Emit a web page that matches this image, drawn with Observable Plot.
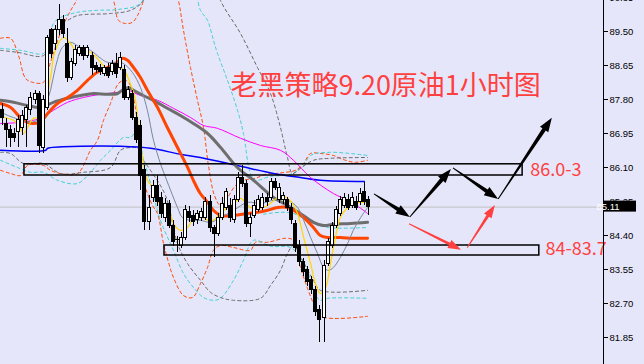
<!DOCTYPE html>
<html>
<head>
<meta charset="utf-8">
<script src="https://cdn.jsdelivr.net/npm/d3@7"></script>
<script src="https://cdn.jsdelivr.net/npm/@observablehq/plot@0.6"></script>
<style>
  html, body { margin: 0; padding: 0; background: #e6e6fa; overflow: hidden; }
</style>
</head>
<body>
<div id="chart"></div>
<script>
// Crude oil, 1-hour bars (OHLC)
const open = [87.53,87.20,87.03,86.95,86.98,87.08,87.28,87.53,87.78,87.95, 86.60,87.60,89.53,89.20,89.53,89.78,89.20,88.35,88.70,88.95, 89.08,88.90,88.90,88.65,88.60,88.45,88.58,88.48,88.70,88.60, 88.53,87.85,87.95,87.35,87.15,86.03,84.73,85.33,85.65,85.35, 84.85,85.20,84.65,84.28,84.15,84.33,84.98,84.90,84.78,84.83, 84.83,85.23,84.58,84.45,84.83,85.10,85.15,84.78,85.28,85.83, 85.70,84.70,84.90,85.03,85.08,85.35,85.35,85.73,85.28,85.28, 85.28,85.10,84.70,84.15,83.73,83.53,83.28,83.03,82.53,82.33, 83.70,84.15,84.65,84.95,85.15,85.28,85.15,85.25,85.23,85.48, 85.28];
const high = [87.70,87.33,87.15,87.08,87.40,87.53,87.65,87.98,88.03,88.00, 87.90,89.40,89.58,89.65,90.18,89.90,89.58,88.83,89.15,89.15, 89.15,89.15,88.98,88.73,88.68,88.65,88.70,88.78,88.95,88.98, 88.65,88.13,88.03,87.48,87.28,86.15,85.40,85.78,85.90,85.48, 85.33,85.28,84.78,84.38,84.48,85.15,85.13,85.03,85.03,85.08, 85.35,85.40,84.65,84.95,85.35,85.58,85.33,85.40,85.98,86.15, 85.78,84.95,85.28,85.40,85.45,85.45,85.83,85.83,85.70,85.48, 85.35,85.20,84.78,84.28,83.83,83.63,83.38,83.13,82.65,83.78, 84.33,84.73,85.13,85.38,85.45,85.43,85.48,85.38,85.58,85.73, 85.38];
const low = [87.15,86.60,86.60,86.73,86.60,86.90,86.60,87.40,87.68,86.45, 86.45,87.53,88.83,89.03,89.40,89.33,88.23,88.28,88.63,88.88, 88.78,88.83,88.40,88.45,88.40,88.38,88.33,88.40,88.33,88.53, 87.78,87.78,87.28,86.70,85.53,84.53,84.53,85.23,85.13,84.83, 84.73,84.58,84.13,83.98,84.08,84.28,84.73,84.63,84.68,84.75, 84.78,84.48,83.85,84.38,84.78,85.03,84.73,84.70,85.23,85.60, 84.60,84.35,84.83,84.98,85.03,85.13,85.28,85.53,85.20,85.18, 85.00,84.68,83.98,83.63,83.38,83.13,82.93,82.38,81.73,81.73, 83.63,84.08,84.58,84.88,85.08,85.03,85.08,85.03,85.15,85.15, 84.90];
const close = [87.33,87.03,86.85,86.83,87.28,87.40,87.58,87.85,87.95,86.65, 87.78,89.33,88.95,89.53,89.78,89.45,88.33,88.73,89.03,89.08, 88.90,89.08,88.60,88.53,88.48,88.58,88.40,88.70,88.45,88.83, 87.85,88.03,87.35,86.78,85.90,84.73,85.10,85.65,85.23,84.95, 85.20,84.65,84.23,84.30,84.35,85.03,84.85,84.73,84.95,84.98, 85.23,84.58,84.45,84.83,85.20,85.48,84.83,85.28,85.83,85.70, 84.70,84.85,85.15,85.28,85.35,85.23,85.73,85.60,85.60,85.40, 85.08,84.78,84.08,83.73,83.48,83.23,83.03,82.48,82.28,83.65, 84.23,84.65,85.03,85.28,85.33,85.10,85.33,85.10,85.45,85.23, 85.11];
const lastPrice = 85.11;

// Moving averages: [bar index, price]
const maFast = [[0.25,87.35],[2.7,87.28],[4.4,87.08],[5.2,86.95],[7.6,87.33],[9.3,87.35],[10.6,87.70],[11.8,88.35],[13.0,89.03],[15.0,89.35],[16.7,89.20],[18.4,88.98],[19.9,89.03],[21.6,88.98],[23.3,88.83],[24.8,88.65],[26.5,88.53],[27.8,88.58],[29.0,88.60],[30.2,88.48],[31.4,88.20],[32.7,87.78],[33.4,87.10],[34.4,86.35],[35.6,85.78],[36.9,85.60],[38.1,85.23],[39.6,85.20],[40.8,85.10],[42.0,84.70],[43.7,84.53],[45.5,84.60],[46.9,84.83],[48.6,84.90],[50.4,84.78],[51.8,84.78],[53.6,84.95],[55.3,85.10],[56.8,85.20],[58.5,85.33],[60.9,85.10],[62.7,85.08],[64.1,85.10],[65.8,85.20],[67.6,85.35],[68.8,85.40],[70.0,85.33],[71.3,85.20],[72.5,84.95],[74.0,84.35],[75.7,83.70],[76.9,83.20],[78.1,82.95],[79.4,83.10],[80.6,83.70],[81.8,84.35],[83.0,84.85],[84.8,85.10],[86.2,85.20],[88.0,85.23],[89.7,85.23]];
const maSlate = [[-0.5,87.48],[3.2,87.33],[6.9,87.23],[9.3,87.33],[10.1,87.53],[11.8,88.03],[13.0,88.60],[14.7,89.10],[16.7,89.23],[19.2,89.10],[21.6,89.03],[24.1,88.83],[25.8,88.73],[28.3,88.73],[29.7,88.70],[31.9,88.48],[33.9,88.10],[35.6,87.53],[37.1,86.78],[38.8,86.20],[39.6,85.98],[41.3,85.53],[43.0,85.10],[44.2,84.85],[46.2,84.78],[48.6,84.78],[51.1,84.73],[53.6,84.85],[56.8,85.03],[60.2,85.23],[63.4,85.20],[66.6,85.28],[70.0,85.28],[72.5,85.10],[74.0,84.78],[75.7,84.35],[77.4,83.95],[78.9,83.60],[80.1,83.53],[81.3,83.60],[83.0,83.85],[84.8,84.20],[86.2,84.53],[88.0,84.85],[89.7,85.10]];
const maOrange = [[-0.5,87.70],[2.0,87.60],[4.4,87.35],[6.1,87.23],[7.6,87.20],[9.3,87.23],[11.1,87.45],[13.5,87.70],[16.0,87.85],[18.4,88.03],[20.9,88.28],[23.3,88.48],[25.8,88.60],[27.8,88.70],[29.5,88.83],[30.7,88.78],[32.2,88.60],[33.9,88.35],[35.6,88.03],[38.1,87.60],[40.5,87.10],[43.0,86.60],[45.5,86.10],[46.9,85.78],[48.6,85.45],[50.4,85.23],[51.8,85.03],[53.6,84.90],[56.8,84.90],[60.2,84.95],[62.7,84.98],[65.1,85.03],[67.6,85.10],[70.0,85.10],[71.5,85.03],[74.0,84.85],[76.4,84.60],[78.1,84.40],[79.9,84.35],[83.0,84.35],[86.2,84.33],[89.7,84.33]];
const maGray = [[-0.5,87.78],[2.7,87.73],[6.1,87.65],[9.3,87.60],[12.5,87.73],[16.0,87.83],[19.2,87.90],[22.4,87.95],[25.8,87.93],[28.3,87.95],[29.7,88.05],[31.0,88.10],[32.2,88.03],[34.6,87.90],[37.1,87.78],[40.5,87.58],[43.7,87.40],[46.9,87.20],[50.4,86.95],[53.6,86.60],[57.7,86.10],[61.7,85.78],[66.6,85.35],[70.0,85.15],[73.2,84.95],[76.4,84.73],[78.9,84.65],[81.3,84.68],[85.5,84.70],[89.7,84.73]];
const maMagenta = [[-0.5,87.20],[4.4,87.23],[9.3,87.33],[12.5,87.53],[16.0,87.73],[19.9,87.85],[24.1,87.93],[28.3,87.98],[30.7,88.03],[33.9,87.90],[38.1,87.78],[42.0,87.58],[46.2,87.35],[49.4,87.15],[52.8,87.08],[58.5,86.83],[63.4,86.65],[68.3,86.53],[71.5,86.28],[75.7,85.85],[81.3,85.45],[84.8,85.28],[88.0,85.08],[89.7,84.95]];
const maBlue = [[-0.5,86.53],[10.6,86.53],[11.1,86.58],[19.2,86.63],[29.0,86.63],[36.4,86.58],[43.7,86.43],[48.6,86.35],[58.5,86.13],[66.6,85.95],[73.2,85.85],[78.1,85.78],[88.9,85.75]];

// Band envelopes (dashed): [bar index, price]
const bandRedUp = [[-0.49,89.33],[1.97,89.33],[3.93,88.90],[5.65,88.33],[7.37,88.23],[10.07,88.23],[11.79,88.73],[13.76,89.33],[15.72,89.83],[17.94,90.23],[19.9,90.53],[26.54,90.40],[28.5,89.78],[30.22,89.70],[31.94,89.73],[33.17,89.90],[34.64,90.275],[36.36,91.03],[41.3,91.03],[43.24,90.275],[44.47,89.53],[46.19,88.60],[47.91,87.78],[49.39,87.10],[50.61,86.15],[52.09,85.40],[53.56,85.15],[55.28,85.35],[57.25,85.65],[59.21,85.78],[62.16,85.83],[64.62,85.93],[67.08,85.95],[69.53,85.98],[71.99,86.03],[73.96,86.20],[75.68,86.45],[78.13,86.45],[81.33,86.40],[84.28,86.28],[86.73,86.23],[89.68,86.28]];
const bandRedLow = [[-0.49,86.03],[1.97,85.95],[4.42,85.90],[6.14,86.15],[10.07,86.15],[11.79,86.03],[14.25,85.95],[18.43,85.95],[21.62,86.53],[23.34,86.78],[24.82,87.28],[26.54,87.70],[28.5,88.20],[30.22,88.28],[31.45,88.15],[32.19,87.85],[33.42,87.03],[34.64,85.78],[36.86,85.15],[38.08,84.95],[39.56,84.20],[40.79,83.73],[42.01,83.35],[44.47,82.90],[46.68,82.85],[48.65,83.20],[50.37,83.60],[51.84,84.03],[53.56,84.15],[56.76,84.10],[60.93,84.03],[62.16,84.23],[65.11,84.23],[69.53,84.33],[71.5,84.28],[73.22,83.60],[74.94,83.08],[76.41,82.70],[78.13,82.38],[89.68,82.38]];
const bandCyanUp = [[-0.49,89.08],[4.42,89.03],[10.07,88.95],[11.06,89.20],[12.53,89.70],[14.25,89.85],[18.43,89.98],[23.34,90.03],[28.26,90.05],[33.91,90.20],[36.36,90.78],[46.19,90.78],[48.65,90.03],[50.37,89.78],[51.84,89.28],[52.83,88.95],[55.28,88.28],[57.74,87.53],[59.21,86.95],[60.93,85.95],[62.16,85.78],[65.85,85.88],[70.76,85.93],[73.96,86.15],[75.68,86.40],[80.59,86.48],[89.68,86.40]];
const bandCyanMid = [[64.13,84.93],[68.3,84.98],[71.5,84.95],[75.68,84.73],[79.85,84.60],[89.68,84.60]];
const bandCyanLow = [[-0.49,86.28],[3.69,86.10],[6.88,85.98],[10.07,85.98],[13.51,85.78],[18.43,85.70],[21.62,85.98],[24.08,86.28],[26.54,86.53],[29.73,86.85],[31.45,86.85],[33.17,87.03],[34.64,86.28],[35.63,85.98],[38.82,84.78],[42.01,84.03],[44.47,83.45],[46.93,83.10],[49.39,82.85],[51.84,82.78],[53.56,82.83],[56.76,83.28],[59.21,83.78],[61.67,84.28],[65.85,84.13],[70.76,84.10],[73.96,83.73],[75.68,83.28],[76.9,82.90],[78.13,82.78],[79.85,82.83],[89.68,82.83]];
const bandGrayUp = [[-0.49,89.03],[3.69,88.98],[10.07,88.90],[11.79,89.40],[14.25,89.73],[15.97,89.78],[18.43,89.90],[26.54,89.95],[31.45,90.03],[34.64,90.275],[36.36,91.03],[51.11,91.03],[53.56,90.275],[58.48,89.45],[62.65,88.60],[65.85,87.95],[68.3,87.10],[70.02,86.35],[71.25,85.95],[73.22,86.08],[76.41,86.28],[80.59,86.33],[89.68,86.35]];
const bandGrayLow = [[-0.49,86.48],[1.97,86.45],[5.16,86.20],[10.07,86.20],[14.25,85.95],[19.9,85.98],[26.54,86.10],[28.99,86.53],[31.45,86.60],[33.17,86.58],[34.64,86.28],[36.36,86.03],[40.05,85.40],[43.0,84.20],[45.45,83.70],[48.65,83.28],[51.11,82.98],[53.56,82.85],[56.76,82.78],[63.39,82.83],[65.85,83.15],[68.3,83.53],[70.02,83.95],[71.5,84.15],[73.96,83.73],[76.41,83.28],[78.13,83.03],[89.68,83.03]];

// Zones: [start bar, end bar, low, high]
const zones = [[5.4, 127.8, 85.90, 86.18], [39.8, 131.9, 83.90, 84.15]];
const zoneLabels = ["86.0-3", "84-83.7"];
// Scenario arrows: [from bar, from price, to bar, to price]
const pathArrows = [[91.4,85.43,100.2,84.85],[100.2,84.85,110.3,86.05],[110.8,86.08,121.9,85.30],[121.9,85.30,135.1,87.33]];
const altArrows = [[100.0,84.68,112.8,84.03],[114.3,84.08,121.1,85.15]];
const title = "老黑策略9.20原油1小时图";
const yTicks = [81.85,82.70,83.55,84.40,85.25,86.10,86.95,87.80,88.65,89.50,90.35];

const bars = open.map((o, i) => ({i, o, h: high[i], l: low[i], c: close[i], up: close[i] >= o}));
const pairs = (a) => a.map(([i, v]) => ({i, v}));
const RED = "#ff4040";

function taperedArrows(list, color, widest, headLen, headHalf) {
  return (index, {x, y}) => {
    const g = d3.create("svg:g");
    for (const [a, b, c, d] of list) {
      const x1 = x(a), y1 = y(b), x2 = x(c), y2 = y(d);
      const L = Math.hypot(x2 - x1, y2 - y1), ux = (x2 - x1) / L, uy = (y2 - y1) / L;
      const nx = -uy, ny = ux;
      const bx = x2 - ux * headLen, by = y2 - uy * headLen;
      const pts = [
        [x1 + nx * 0.5, y1 + ny * 0.5],
        [bx + nx * widest / 2, by + ny * widest / 2],
        [bx + nx * headHalf, by + ny * headHalf],
        [x2, y2],
        [bx - nx * headHalf, by - ny * headHalf],
        [bx - nx * widest / 2, by - ny * widest / 2],
        [x1 - nx * 0.5, y1 - ny * 0.5]
      ];
      g.append("polygon").attr("points", pts.map(p => p.join(",")).join(" ")).attr("fill", color);
    }
    return g.node();
  };
}

function priceTag(value) {
  return (index, {y}, values, {width, marginRight}) => {
    const g = d3.create("svg:g");
    const x0 = width - marginRight + 1, yy = y(value);
    g.append("rect").attr("x", x0).attr("y", yy - 6).attr("width", 32).attr("height", 11).attr("fill", "black");
    g.append("text").attr("x", x0 + 4).attr("y", yy).attr("dy", "0.35em")
      .attr("fill", "white").attr("font-size", 9.5).attr("font-family", "Liberation Sans, sans-serif")
      .text(d3.format(".2f")(value));
    return g.node();
  };
}

const dashed = (data, stroke) => Plot.line(pairs(data), {x: "i", y: "v", stroke, strokeWidth: 1, strokeDasharray: "3,3", curve: "catmull-rom", clip: true});
const solid = (data, stroke, strokeWidth) => Plot.line(pairs(data), {x: "i", y: "v", stroke, strokeWidth, curve: "catmull-rom", clip: true});

const chart = Plot.plot({
  width: 644,
  height: 364,
  marginLeft: 0,
  marginTop: 0,
  marginBottom: 0,
  marginRight: 41,
  style: {background: "#e6e6fa", fontFamily: "Liberation Sans, sans-serif", fontSize: "9.5px", color: "black", overflow: "hidden"},
  x: {domain: [-0.49, 147.67], axis: null},
  y: {domain: [81.175, 90.275], axis: null},
  marks: [
    Plot.ruleY([lastPrice], {stroke: "#c0c0c0", strokeWidth: 1}),
    dashed(bandRedUp, "#ff4500"),
    dashed(bandRedLow, "#ff4500"),
    dashed(bandCyanUp, "#40d0d0"),
    dashed(bandCyanMid, "#40d0d0"),
    dashed(bandCyanLow, "#40d0d0"),
    dashed(bandGrayUp, "#696969"),
    dashed(bandGrayLow, "#696969"),
    solid(maBlue, "#0000ff", 1.5),
    solid(maMagenta, "#ff00ff", 1),
    solid(maGray, "#6e6e6e", 3),
    solid(maOrange, "#ff4500", 3),
    solid(maSlate, "#778899", 1),
    solid(maFast, "#ffd700", 1.2),
    Plot.ruleX(bars, {x: "i", y1: "l", y2: "h", stroke: "black", strokeWidth: 1, shapeRendering: "crispEdges"}),
    Plot.rect(bars, {x1: d => d.i - 0.37, x2: d => d.i + 0.37, y1: "o", y2: "c", fill: d => d.up ? "white" : "black", stroke: "black", strokeWidth: 1, shapeRendering: "crispEdges"}),
    Plot.rect(zones, {x1: d => d[0], x2: d => d[1], y1: d => d[2], y2: d => d[3], fill: "none", stroke: "black", strokeWidth: 1.5}),
    Plot.text([zoneLabels[0]], {x: 129.7, y: 86.03, text: d => d, textAnchor: "start", fill: RED, fontSize: 18, fontFamily: "Noto Sans CJK SC"}),
    Plot.text([zoneLabels[1]], {x: 133.4, y: 84.06, text: d => d, textAnchor: "start", fill: RED, fontSize: 18, fontFamily: "Noto Sans CJK SC"}),
    Plot.text([title], {x: 56.0, y: 88.13, text: d => d, textAnchor: "start", fill: RED, fontSize: 27, fontFamily: "Noto Sans CJK SC"}),
    taperedArrows(pathArrows, "black", 4, 14, 5),
    taperedArrows(altArrows, RED, 3, 13, 4.5),
    Plot.ruleX([147.67], {stroke: "black", strokeWidth: 1}),
    Plot.axisY({anchor: "right", ticks: yTicks, tickSize: 4, tickPadding: 2, tickFormat: d3.format(".2f")}),
    priceTag(lastPrice)
  ]
});
document.getElementById("chart").appendChild(chart);
</script>
</body>
</html>
